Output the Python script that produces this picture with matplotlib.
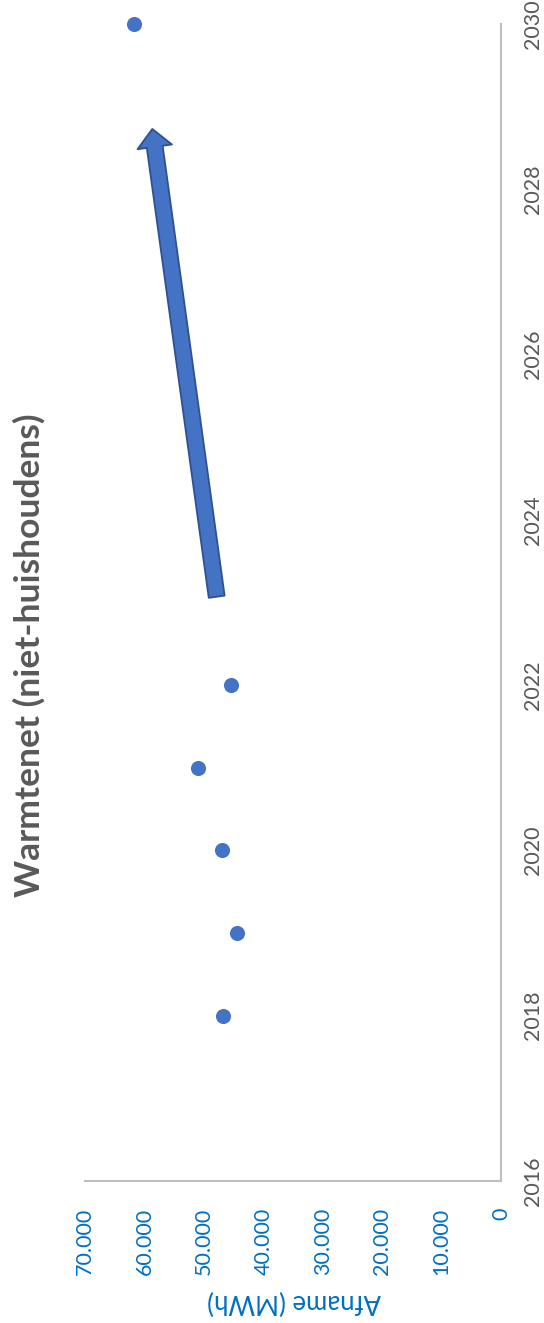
import matplotlib
matplotlib.use("Agg")
import matplotlib.pyplot as plt
from matplotlib.patches import FancyArrowPatch

# data
years = [2018, 2019, 2020, 2021, 2022, 2030]
afname = [46700, 44500, 46900, 51000, 45500, 61750]
year_ticks = [2016, 2018, 2020, 2022, 2024, 2026, 2028, 2030]
value_ticks = [0, 10000, 20000, 30000, 40000, 50000, 60000, 70000]
# trend arrow (start -> end), in data units
arrow_years = [2023.07, 2028.73]
arrow_values = [47840, 58680]

title = "Warmtenet (niet-huishoudens)"
ylabel = "Afname (MWh)"

plt.rcParams['font.family'] = ['Lato', 'DejaVu Sans']

grey = '#595959'
blue_txt = '#0070C0'
dot = '#4472C4'

fig = plt.figure(figsize=(5.44, 13.23), dpi=100)
# chart is drawn turned a quarter turn: values run right->left, years bottom->top
ax = fig.add_axes([85/544, 142/1323, 416/544, 1157/1323])

ax.scatter(afname, years, s=118, color=dot, zorder=3, linewidths=0, clip_on=False)

arr = FancyArrowPatch((arrow_values[0], arrow_years[0]), (arrow_values[1], arrow_years[1]),
                      arrowstyle='simple,head_length=13,head_width=25,tail_width=11.5',
                      mutation_scale=1, shrinkA=0, shrinkB=0,
                      facecolor=dot, edgecolor='#2F528F', linewidth=1.3, zorder=2)
ax.add_patch(arr)

ax.set_xlim(70000, 0)
ax.set_ylim(2016, 2030)

ax.set_xticks(value_ticks)
ax.set_xticklabels([f"{v:,.0f}".replace(',', '.') for v in value_ticks],
                   rotation=90, color=blue_txt, fontsize=15.5)
ax.set_yticks(year_ticks)
ax.yaxis.tick_right()
ax.set_yticklabels([str(y) for y in year_ticks], rotation=90, color=grey,
                   fontsize=15.5, va='center')
ax.tick_params(axis='x', length=0, pad=19)
ax.tick_params(axis='y', length=0, pad=16)

for s in ['top', 'left']:
    ax.spines[s].set_visible(False)
for s in ['bottom', 'right']:
    ax.spines[s].set_color('#BFBFBF')
    ax.spines[s].set_linewidth(1.5)

fig.text(29/544, 1 - 655/1323, title, rotation=90, ha='center', va='center',
         fontsize=25.5, fontweight='bold', color=grey)
fig.text(294/544, 1 - 1302/1323, ylabel, rotation=180, ha='center', va='center',
         fontsize=18.5, color=blue_txt)

fig.savefig('out.png', dpi=100)
